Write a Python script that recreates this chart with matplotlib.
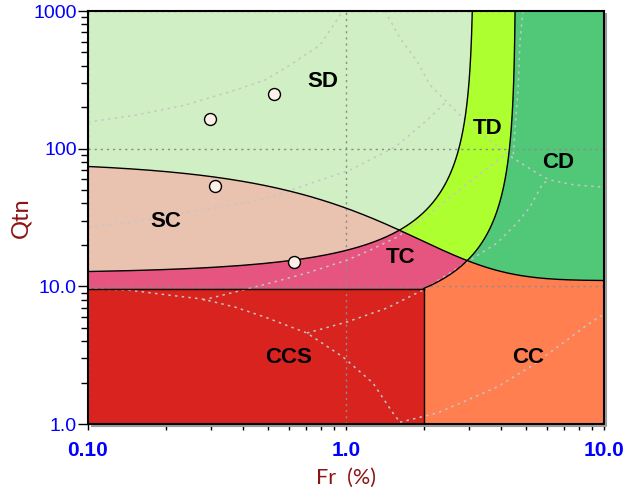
import numpy as np
import matplotlib
matplotlib.use("Agg")
import matplotlib.pyplot as plt
from matplotlib.ticker import FixedLocator, FixedFormatter, LogLocator, NullFormatter
from matplotlib import transforms
from matplotlib.lines import Line2D

# ---- Robertson (2016) SBTn boundary constants ----
CD_LIMIT = 70.0      # contractive / dilative boundary
IB_SAND = 32.0       # sand-like / transitional boundary
IB_CLAY = 22.0       # transitional / clay-like boundary
Q_CCS = 9.5          # upper Qtn limit of the sensitive clay-like zone
FR_CCS = 2.0         # Fr limit of the sensitive clay-like zone

FR_MIN, FR_MAX = 0.1, 10.0
Q_MIN, Q_MAX = 1.0, 1000.0

zone_names = ["SD", "TD", "CD", "SC", "TC", "CC", "CCS"]
zone_colors = ["#d1efc4", "#adff2f", "#50c878", "#eac2b0",
               "#e65480", "#ff7f50", "#d9231e"]
label_fr = [0.81, 3.55, 6.63, 0.20, 1.63, 5.08, 0.60]
label_qtn = [305, 141, 80, 29.8, 16.3, 3.02, 3.02]

# ---- CPT data points ----
sample_fr = [0.297, 0.526, 0.311, 0.629]
sample_qtn = [164, 249, 53.5, 15.0]

# ---- Robertson (1990) zone boundaries (background reference) ----
r90_z67_fr = [0.100, 0.152, 0.238, 0.371, 0.485, 0.607, 0.793, 0.973]
r90_z67_q = [156, 175, 207, 266, 315, 405, 565, 1000]

r90_z56_fr = [0.100, 0.149, 0.272, 0.464, 0.681, 1.036, 1.549, 2.024, 2.464]
r90_z56_q = [27.0, 29.3, 35.8, 42.3, 53.5, 69.9, 102.7, 156, 222]

r90_z45_fr = [0.279, 0.399, 0.508, 0.706, 1.009, 1.239, 1.577, 2.117, 2.841, 4.207]
r90_z45_q = [7.95, 9.40, 10.57, 12.5, 15.5, 18.3, 22.8, 34.1, 52.6, 92.9]

r90_z34_fr = [0.706, 1.009, 1.442, 1.988, 2.464, 3.024, 3.848, 4.601, 5.166, 5.801, 6.176]
r90_z34_q = [4.58, 5.51, 6.96, 9.40, 12.1, 15.5, 20.6, 28.8, 37.7, 56.2, 59.2]

r90_z8_fr = [1.416, 1.619, 1.884, 2.117, 2.377, 2.841, 3.396, 3.954, 4.440,
             5.649, 6.176, 7.72, 10.0]
r90_z8_q = [1000, 636, 433, 290, 233, 167, 125.6, 101, 85.4, 64.3, 59.2, 54.4, 52.6]

r90_z89_fr = [4.853, 4.725, 4.642, 4.519, 4.440]
r90_z89_q = [1000, 604, 262, 141, 85.4]

r90_z1_fr = [0.100, 0.143, 0.204, 0.277, 0.371, 0.485, 0.706, 0.973, 1.272, 1.521, 1.619]
r90_z1_q = [9.56, 9.40, 8.65, 8.09, 7.07, 5.98, 4.58, 3.07, 1.985, 1.20, 1.03]

r90_z23_fr = [1.619, 2.253, 2.841, 3.848, 5.166, 6.935, 8.594, 10.0]
r90_z23_q = [1.03, 1.20, 1.445, 1.857, 2.594, 3.875, 5.236, 6.29]

x_ticks = [0.1, 1.0, 10.0]
x_tick_labels = ["0.10", "1.0", "10.0"]
y_ticks = [1.0, 10.0, 100.0, 1000.0]
y_tick_labels = ["1.0", "10.0", "100", "1000"]


def q_cd(fr):
    return 11.0 + CD_LIMIT / (1.0 + 0.06 * np.asarray(fr)) ** 17


def q_ib(fr, ib):
    return (70.0 * ib - 1000.0) / (100.0 - ib * np.asarray(fr))


def fr_ib(q, ib):
    return (100.0 - (70.0 * ib - 1000.0) / np.asarray(q)) / ib


def crossing(ib, lo, hi):
    for _ in range(80):
        mid = np.sqrt(lo * hi)
        if q_cd(mid) - q_ib(mid, ib) > 0:
            lo = mid
        else:
            hi = mid
    return np.sqrt(lo * hi)


def geo(a, b, n=300):
    return np.geomspace(a, b, n)


fa = crossing(IB_SAND, 0.5, 3.0)
qa = float(q_cd(fa))
fb = crossing(IB_CLAY, 2.0, 4.4)
qb = float(q_cd(fb))

cd_left = geo(FR_MIN, fa)
cd_mid = geo(fa, fb)
cd_right = geo(fb, FR_MAX)
q32_up = geo(qa, Q_MAX)
q22_up = geo(qb, Q_MAX)
f32_low = geo(FR_MIN, fa)
f22_low = geo(FR_CCS, fb)

polys = {
    "SD": (np.concatenate([cd_left, fr_ib(q32_up, IB_SAND), [FR_MIN]]),
           np.concatenate([q_cd(cd_left), q32_up, [Q_MAX]])),
    "TD": (np.concatenate([fr_ib(q32_up, IB_SAND), fr_ib(q22_up[::-1], IB_CLAY), cd_mid[::-1]]),
           np.concatenate([q32_up, q22_up[::-1], q_cd(cd_mid[::-1])])),
    "CD": (np.concatenate([fr_ib(q22_up, IB_CLAY), [FR_MAX, FR_MAX], cd_right[::-1]]),
           np.concatenate([q22_up, [Q_MAX, q_cd(FR_MAX)], q_cd(cd_right[::-1])])),
    "SC": (np.concatenate([cd_left, f32_low[::-1]]),
           np.concatenate([q_cd(cd_left), q_ib(f32_low[::-1], IB_SAND)])),
    "TC": (np.concatenate([f32_low, cd_mid, f22_low[::-1], [FR_CCS, FR_MIN]]),
           np.concatenate([q_ib(f32_low, IB_SAND), q_cd(cd_mid),
                           q_ib(f22_low[::-1], IB_CLAY), [Q_CCS, Q_CCS]])),
    "CC": (np.concatenate([[FR_CCS, FR_CCS], f22_low, cd_right, [FR_MAX]]),
           np.concatenate([[Q_MIN, Q_CCS], q_ib(f22_low, IB_CLAY), q_cd(cd_right), [Q_MIN]])),
    "CCS": (np.array([FR_MIN, FR_CCS, FR_CCS, FR_MIN]),
            np.array([Q_MIN, Q_MIN, Q_CCS, Q_CCS])),
}

fig = plt.figure(figsize=(6.28, 4.94), dpi=100)
ax = fig.add_axes([88 / 628, 70 / 494, 516 / 628, 413 / 494])
ax.set_xscale("log")
ax.set_yscale("log")
ax.set_xlim(FR_MIN, FR_MAX)
ax.set_ylim(Q_MIN, Q_MAX)

for name, color in zip(zone_names, zone_colors):
    xs, ys = polys[name]
    ax.fill(xs, ys, facecolor=color, edgecolor=color, linewidth=0.3, zorder=1)

# background Robertson (1990) boundaries
dot_style = dict(color="#c6c6c6", linewidth=1.1, linestyle=(0, (1.6, 2.8)), zorder=2)
for fx, qy in [(r90_z67_fr, r90_z67_q), (r90_z56_fr, r90_z56_q),
               (r90_z45_fr, r90_z45_q), (r90_z34_fr, r90_z34_q),
               (r90_z8_fr, r90_z8_q), (r90_z89_fr, r90_z89_q),
               (r90_z1_fr, r90_z1_q), (r90_z23_fr, r90_z23_q)]:
    ax.plot(fx, qy, **dot_style)

# grid
ax.grid(True, which="major", color="#8c8c8c", linestyle=(0, (1.6, 2.8)), linewidth=1.0)
ax.set_axisbelow(False)

# SBTn boundaries
line_style = dict(color="black", linewidth=1.0, zorder=3)
fr_all = geo(FR_MIN, FR_MAX)
ax.plot(fr_all, q_cd(fr_all), **line_style)
q32_all = geo(float(q_ib(FR_MIN, IB_SAND)), Q_MAX)
ax.plot(fr_ib(q32_all, IB_SAND), q32_all, **line_style)
q22_all = geo(float(q_ib(FR_CCS, IB_CLAY)), Q_MAX)
ax.plot(fr_ib(q22_all, IB_CLAY), q22_all, **line_style)
ax.plot([FR_MIN, FR_CCS], [Q_CCS, Q_CCS], **line_style)
ax.plot([FR_CCS, FR_CCS], [Q_MIN, float(q_ib(FR_CCS, IB_CLAY))], **line_style)

# data points
ax.plot(sample_fr, sample_qtn, linestyle="none", marker="o", markersize=8.6,
        markerfacecolor="#fdf0e8", markeredgecolor="black", markeredgewidth=1.0, zorder=4)

# zone labels
for name, fx, qy in zip(zone_names, label_fr, label_qtn):
    ax.text(fx, qy, name, ha="center", va="center", fontsize=16, fontweight="bold",
            family="Liberation Sans", color="black", zorder=5)

# ticks
ax.xaxis.set_major_locator(FixedLocator(x_ticks))
ax.xaxis.set_major_formatter(FixedFormatter(x_tick_labels))
ax.yaxis.set_major_locator(FixedLocator(y_ticks))
ax.yaxis.set_major_formatter(FixedFormatter(y_tick_labels))
for axis in (ax.xaxis, ax.yaxis):
    axis.set_minor_locator(LogLocator(base=10, subs=np.arange(2, 10)))
    axis.set_minor_formatter(NullFormatter())

ax.tick_params(axis="x", which="both", direction="out", length=4.5, width=1.0, color="black")
ax.tick_params(axis="x", which="major", pad=8, labelsize=15, labelcolor="#0000ff")
ax.tick_params(axis="y", which="major", direction="out", length=7, width=1.0, pad=1,
               labelsize=14, labelcolor="#0000ff")
ax.tick_params(axis="y", which="minor", direction="out", length=5, width=1.0)
for lab in ax.get_xticklabels():
    lab.set_fontweight("bold")
    lab.set_family("Liberation Sans")
for lab in ax.get_yticklabels():
    lab.set_family("Liberation Sans")

for sp in ax.spines.values():
    sp.set_linewidth(1.5)
    sp.set_color("black")
    sp.set_zorder(6)

# grey bevel along the right and bottom edges
shift = transforms.offset_copy(ax.transAxes, fig=fig, x=2, y=-2, units="dots")
fig.add_artist(Line2D([0.003, 1.0, 1.0], [0.0, 0.0, 0.997], transform=shift,
                      color="#9a9a9a", linewidth=1.5))

ax.set_xlabel("Fr  (%)", fontsize=15.5, color="#8b1414", family="Lato")
ax.xaxis.set_label_coords(0.5, -0.131)
ax.xaxis.label.set_va("center")
ax.set_ylabel("Qtn", fontsize=17, color="#8b1414", family="Lato")
ax.yaxis.set_label_coords(-0.13, 0.499)
ax.yaxis.label.set_va("center")

fig.savefig("out.png", dpi=100)
